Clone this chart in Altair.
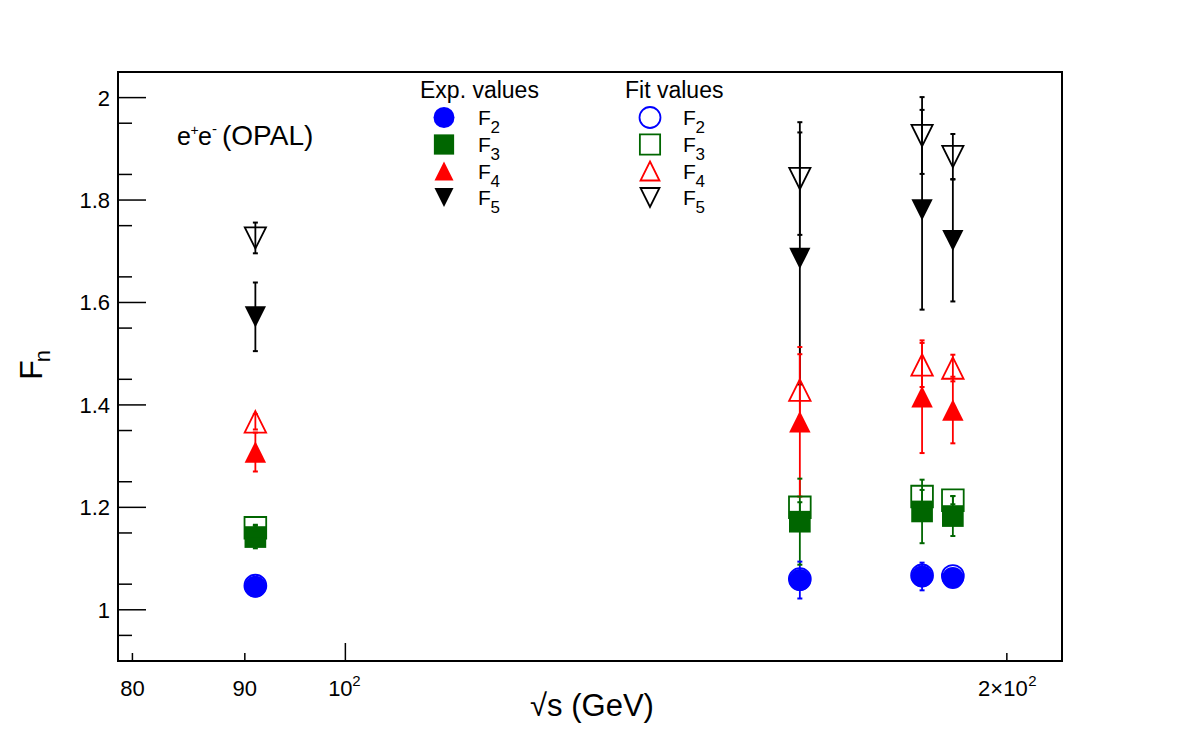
import altair as alt
import pandas as pd

# ---- measurements: sqrt(s) in GeV and normalised factorial moments F_n ----
energy = [91.0, 161.0, 183.0, 189.0]
series = ["F2", "F3", "F4", "F5"]

f2_exp = [1.045, 1.058, 1.065, 1.062]
f2_exp_err = [0.006, 0.036, 0.027, 0.015]
f3_exp = [1.142, 1.172, 1.192, 1.183]
f3_exp_err = [0.022, 0.084, 0.062, 0.039]
f4_exp = [1.308, 1.367, 1.416, 1.390]
f4_exp_err = [0.038, 0.146, 0.110, 0.065]
f5_exp = [1.572, 1.686, 1.781, 1.721]
f5_exp_err = [0.067, 0.246, 0.195, 0.119]

f2_fit = [1.047, 1.060, 1.067, 1.066]
f2_fit_err = [0.004, 0.010, 0.010, 0.008]
f3_fit = [1.160, 1.200, 1.221, 1.214]
f3_fit_err = [0.006, 0.010, 0.013, 0.008]
f4_fit = [1.367, 1.429, 1.478, 1.472]
f4_fit_err = [0.015, 0.070, 0.043, 0.026]
f5_fit = [1.726, 1.842, 1.926, 1.885]
f5_fit_err = [0.030, 0.110, 0.075, 0.044]

x_plain_ticks = [80, 90]
x_plain_labels = ["80", "90"]
x_tick_short = [80, 90, 200]
x_tick_long = [100]
y_major = [1.0, 1.2, 1.4, 1.6, 1.8, 2.0]
y_major_labels = ["1", "1.2", "1.4", "1.6", "1.8", "2"]
y_minor = [0.95, 1.05, 1.15, 1.25, 1.35, 1.45, 1.55, 1.65, 1.75, 1.85, 1.95]

# ---- build the long table ----
rows = []
for kind, groups in (
    ("exp", [(f2_exp, f2_exp_err), (f3_exp, f3_exp_err), (f4_exp, f4_exp_err), (f5_exp, f5_exp_err)]),
    ("fit", [(f2_fit, f2_fit_err), (f3_fit, f3_fit_err), (f4_fit, f4_fit_err), (f5_fit, f5_fit_err)]),
):
    for name, (vals, errs) in zip(series, groups):
        for e, v, d in zip(energy, vals, errs):
            rows.append({"kind": kind, "series": name, "energy": e,
                         "value": v, "lo": v - d, "hi": v + d})
df = pd.DataFrame(rows)
exp_df = df[df["kind"] == "exp"]
fit_df = df[df["kind"] == "fit"]

# ---- layout ----
FONT = "Liberation Sans"
OX, OY = 118, 72          # top-left corner of the frame
W, H = 944, 589           # frame size

colors = ["#0000ff", "#006600", "#ff0000", "#000000"]
tri_up = "M0,-1L1,1L-1,1Z"
tri_down = "M-1,-1L1,-1L0,1Z"
shapes = ["circle", "square", tri_up, tri_down]
sizes = [480, 450, 400, 400]

x_scale = alt.Scale(type="log", domain=[78.8, 211.9], nice=False)
y_scale = alt.Scale(domain=[0.9, 2.05], nice=False, zero=False)

color_enc = alt.Color("series:N", scale=alt.Scale(domain=series, range=colors), legend=None)
shape_enc = alt.Shape("series:N", scale=alt.Scale(domain=series, range=shapes), legend=None)
size_enc = alt.Size("series:O", scale=alt.Scale(domain=series, range=sizes), legend=None)


def xq(field):
    return alt.X(field, scale=x_scale, axis=None)


def yq(field):
    return alt.Y(field, scale=y_scale, axis=None)


def errorbars(data):
    base = alt.Chart(data)
    bar = base.mark_rule(strokeWidth=1.8, opacity=1).encode(
        x=xq("energy:Q"), y=yq("lo:Q"), y2="hi:Q", color=color_enc)
    cap_lo = base.mark_tick(orient="horizontal", size=5, thickness=2, opacity=1).encode(
        x=xq("energy:Q"), y=yq("lo:Q"), color=color_enc)
    cap_hi = base.mark_tick(orient="horizontal", size=5, thickness=2, opacity=1).encode(
        x=xq("energy:Q"), y=yq("hi:Q"), color=color_enc)
    return [bar, cap_lo, cap_hi]


exp_points = alt.Chart(exp_df).mark_point(filled=True, opacity=1, strokeWidth=0).encode(
    x=xq("energy:Q"), y=yq("value:Q"),
    color=color_enc, shape=shape_enc, size=size_enc,
)
fit_points = alt.Chart(fit_df).mark_point(filled=False, opacity=1, strokeWidth=1.8).encode(
    x=xq("energy:Q"), y=yq("value:Q"),
    color=color_enc, shape=shape_enc, size=size_enc,
)

# inner ticks of the frame
x_short = alt.Chart(pd.DataFrame({"t": x_tick_short})).mark_rule(color="black", strokeWidth=1.5).encode(
    x=xq("t:Q"), y=alt.value(H), y2=alt.value(H - 8))
x_long = alt.Chart(pd.DataFrame({"t": x_tick_long})).mark_rule(color="black", strokeWidth=1.5).encode(
    x=xq("t:Q"), y=alt.value(H), y2=alt.value(H - 18))
y_maj = alt.Chart(pd.DataFrame({"t": y_major})).mark_rule(color="black", strokeWidth=1.5).encode(
    y=yq("t:Q"), x=alt.value(0), x2=alt.value(28))
y_min = alt.Chart(pd.DataFrame({"t": y_minor})).mark_rule(color="black", strokeWidth=1.5).encode(
    y=yq("t:Q"), x=alt.value(0), x2=alt.value(14))


# tick labels placed through the same scales
def x_label(ticks, labels, size=22, dx=0, dy=0, align="center"):
    return alt.Chart(pd.DataFrame({"t": ticks, "lab": labels})).mark_text(
        align=align, baseline="alphabetic", font=FONT, fontSize=size, color="black", dx=dx, dy=dy
    ).encode(x=xq("t:Q"), y=alt.value(H + 35), text="lab:N")


x_labels = [
    x_label(x_plain_ticks, x_plain_labels),
    x_label([100], ["10"], dx=-5),
    x_label([100], ["2"], size=15, dx=7, dy=-10, align="left"),
    x_label([200], ["2\u00d710"], dx=-4),
    x_label([200], ["2"], size=15, dx=21.5, dy=-10, align="left"),
]
y_labels = alt.Chart(pd.DataFrame({"t": y_major, "lab": y_major_labels})).mark_text(
    align="right", baseline="alphabetic", font=FONT, fontSize=22, color="black", dy=8
).encode(y=yq("t:Q"), x=alt.value(-8), text="lab:N")


def text_at(txt, x, y, size, align="left", baseline="alphabetic", angle=0):
    return alt.Chart(pd.DataFrame({"t": [txt]})).mark_text(
        align=align, baseline=baseline, font=FONT, fontSize=size, color="black", angle=angle
    ).encode(x=alt.value(x - OX), y=alt.value(y - OY), text="t:N")


def marker_at(name, filled, x, y):
    i = series.index(name)
    return alt.Chart(pd.DataFrame({"t": [name]})).mark_point(
        filled=filled, opacity=1, strokeWidth=0 if filled else 1.8
    ).encode(x=alt.value(x - OX), y=alt.value(y - OY), shape=alt.value(shapes[i]),
             color=alt.value(colors[i]), size=alt.value(sizes[i] - 40))


annotations = []
# legend
annotations.append(text_at("Exp. values", 420, 98, 23))
annotations.append(text_at("Fit values", 625, 98, 23))
row_base = [125, 152, 178.5, 205]
for name, yb in zip(series, row_base):
    sub = name[1:]
    annotations.append(marker_at(name, True, 444, yb - 7.5))
    annotations.append(text_at("F", 478, yb, 21))
    annotations.append(text_at(sub, 490.5, yb + 8, 17))
    annotations.append(marker_at(name, False, 650, yb - 7.5))
    annotations.append(text_at("F", 683, yb, 21))
    annotations.append(text_at(sub, 695.5, yb + 8, 17))

# process label
annotations.append(text_at("e", 177, 145, 25))
annotations.append(text_at("+", 190.5, 135, 14))
annotations.append(text_at("e", 198, 145, 25))
annotations.append(text_at("-", 212, 134, 15))
annotations.append(text_at("(OPAL)", 222, 145, 28))

# axis titles
annotations.append(text_at("\u221as (GeV)", 592, 716, 31, align="center"))
annotations.append(text_at("F", 41.5, 370, 32, align="center", angle=270))
annotations.append(text_at("n", 50, 356, 22, align="center", angle=270))

layers = (
    [x_short, x_long, y_maj, y_min, y_labels]
    + x_labels
    + errorbars(exp_df)
    + [exp_points]
    + errorbars(fit_df)
    + [fit_points]
    + annotations
)

chart = alt.layer(*layers).properties(
    width=W, height=H,
    autosize=alt.AutoSizeParams(type="none"),
    padding={"left": OX, "top": OY, "right": 1182 - OX - W, "bottom": 736 - OY - H},
).configure(
    background="white",
    view=alt.ViewConfig(stroke="black", strokeWidth=2),
)

chart.save("out.html", embed_options={"renderer": "svg", "actions": False})
